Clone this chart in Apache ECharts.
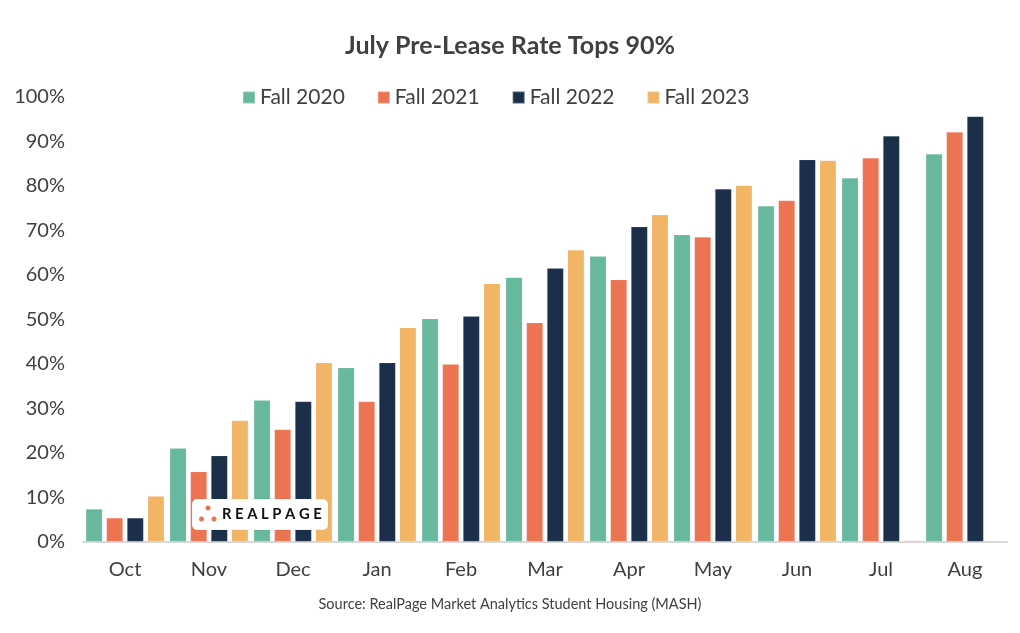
<!DOCTYPE html>
<html>
<head>
<meta charset="utf-8">
<script src="https://cdn.jsdelivr.net/npm/echarts@6/dist/echarts.min.js"></script>
<style>html,body{margin:0;padding:0;background:#fff}#c{width:1020px;height:633px}</style>
</head>
<body>
<div id="c"></div>
<script>
const categories = ['Oct','Nov','Dec','Jan','Feb','Mar','Apr','May','Jun','Jul','Aug'];
const fall2020 = [7.3, 21.0, 31.8, 39.1, 50.1, 59.4, 64.2, 69.0, 75.5, 81.8, 87.2];
const fall2021 = [5.3, 15.7, 25.2, 31.5, 39.9, 49.2, 58.9, 68.5, 76.7, 86.3, 92.1];
const fall2022 = [5.3, 19.3, 31.5, 40.2, 50.7, 61.5, 70.8, 79.3, 85.9, 91.2, 95.6];
const fall2023 = [10.2, 27.2, 40.2, 48.1, 58.0, 65.6, 73.5, 80.1, 85.7, 0.2, null];
const seriesNames = ['Fall 2020','Fall 2021','Fall 2022','Fall 2023'];
const colors = ['#68b89e','#ec7452','#1b2f4b','#f2b566'];
const txt = '#404040';
const font = 'Lato, "Open Sans", sans-serif';

const chart = echarts.init(document.getElementById('c'));
const data = [fall2020, fall2021, fall2022, fall2023];
chart.setOption({
  animation: false,
  color: colors,
  textStyle: {fontFamily: font},
  title: {
    text: 'July Pre-Lease Rate Tops 90%',
    left: 'center', top: 28,
    textStyle: {fontFamily: font, fontSize: 25, fontWeight: 'bold', color: txt}
  },
  legend: {
    data: seriesNames,
    left: 237, top: 82,
    itemWidth: 12, itemHeight: 12, itemGap: 32,
    icon: 'rect',
    textStyle: {fontFamily: font, fontSize: 21, color: txt}
  },
  grid: {left: 83, right: 13, top: 97, bottom: 91.5, containLabel: false},
  xAxis: {
    type: 'category', data: categories,
    axisLine: {show: true, lineStyle: {color: '#d9d9d9', width: 2}},
    axisTick: {show: false},
    axisLabel: {fontFamily: font, fontSize: 20, color: txt, margin: 18}
  },
  yAxis: {
    type: 'value', min: 0, max: 100, interval: 10,
    axisLine: {show: false}, axisTick: {show: false},
    splitLine: {show: false},
    axisLabel: {fontFamily: font, fontSize: 20, color: txt, margin: 18, formatter: '{value}%'}
  },
  series: seriesNames.map((n, i) => ({
    name: n, type: 'bar', data: data[i],
    barWidth: 16.5, barGap: '25%',
    itemStyle: {color: colors[i], borderColor: 'rgba(255,255,255,0.25)', borderWidth: 0.5}
  })),
  graphic: [
    {type: 'text', left: 'center', top: 597,
     style: {text: 'Source: RealPage Market Analytics Student Housing (MASH)', fontFamily: font, fontSize: 14.5, fill: txt}},
    {type: 'rect', z: 100, shape: {x: 192, y: 499, width: 136, height: 31, r: 5},
     style: {fill: '#ffffff', stroke: 'rgba(0,0,0,0.06)', lineWidth: 1}},
    {type: 'circle', z: 101, shape: {cx: 208, cy: 508, r: 2.5}, style: {fill: '#ec7452'}},
    {type: 'circle', z: 101, shape: {cx: 201.5, cy: 519, r: 2.5}, style: {fill: '#ec7452'}},
    {type: 'circle', z: 101, shape: {cx: 214, cy: 519, r: 2.5}, style: {fill: '#ec7452'}},
    {type: 'text', z: 101, x: 222, y: 506.5,
     style: {text: 'R E A L P A G E', fontFamily: font, fontSize: 14.8, fontWeight: 'bold', fill: '#111111'}}
  ]
});
</script>
</body>
</html>
